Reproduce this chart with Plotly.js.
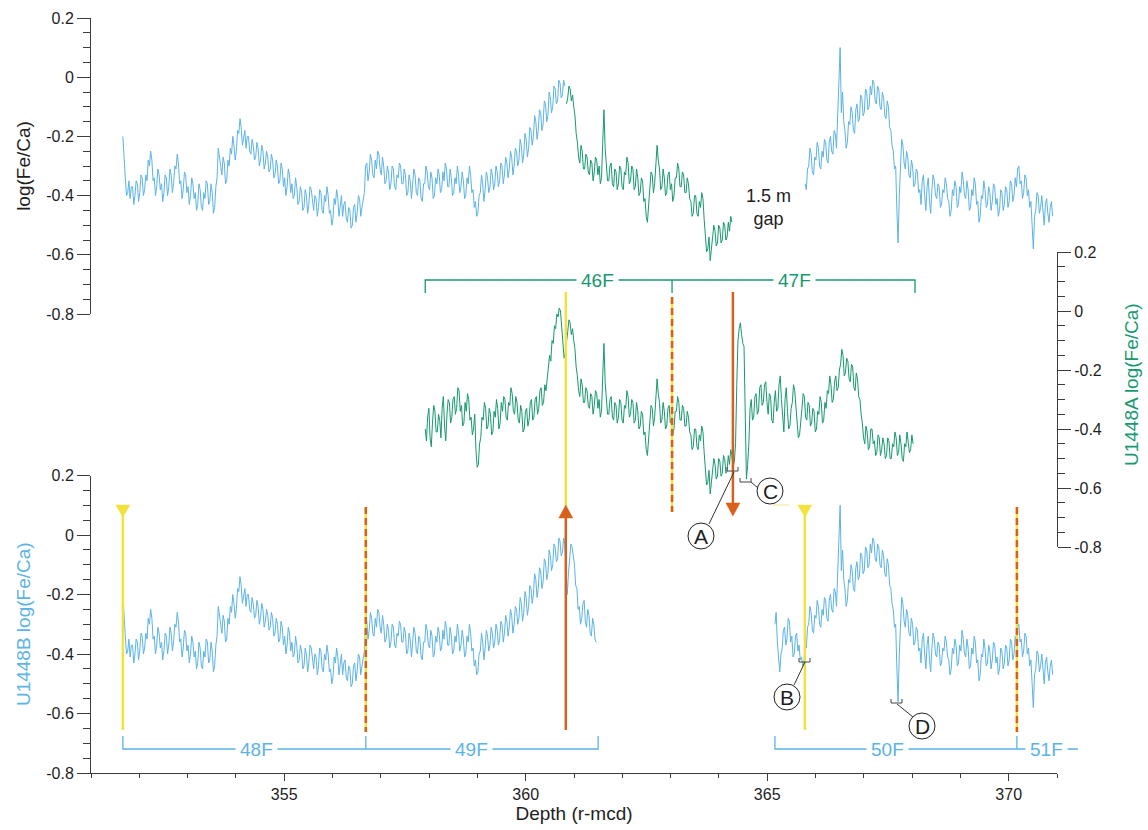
<!DOCTYPE html>
<html><head><meta charset="utf-8">
<script src="https://cdn.plot.ly/plotly-3.0.1.min.js"></script>
<style>html,body{margin:0;padding:0;background:#fff}#chart{width:1148px;height:830px}</style>
</head><body><div id="chart"></div>
<script>
// ---------------- data ----------------
const depthStep = 0.025;
const depthStartB1 = 351.66;   // U1448B, cores 48F-49F
const depthStartB2 = 365.16;   // U1448B, cores 50F-51F
const depthStartA  = 357.92;   // U1448A, cores 46F-47F

const b1Values = [
 -0.20,-0.29,-0.34,-0.40,-0.39,-0.35,-0.41,-0.37,-0.37,-0.43,-0.40,-0.35,-0.36,-0.42,-0.39,-0.33,-0.34,-0.40,-0.38,-0.33,
 -0.35,-0.28,-0.30,-0.25,-0.28,-0.35,-0.34,-0.40,-0.37,-0.31,-0.33,-0.38,-0.36,-0.42,-0.39,-0.33,-0.34,-0.40,-0.37,-0.31,
 -0.33,-0.39,-0.36,-0.30,-0.31,-0.26,-0.29,-0.36,-0.35,-0.41,-0.38,-0.32,-0.33,-0.39,-0.37,-0.43,-0.40,-0.34,-0.36,-0.41,
 -0.39,-0.45,-0.43,-0.36,-0.38,-0.44,-0.45,-0.39,-0.41,-0.35,-0.36,-0.43,-0.42,-0.36,-0.39,-0.46,-0.44,-0.37,-0.34,-0.24,
 -0.27,-0.31,-0.33,-0.27,-0.29,-0.36,-0.35,-0.28,-0.30,-0.24,-0.26,-0.20,-0.23,-0.28,-0.25,-0.18,-0.19,-0.14,-0.17,-0.23,
 -0.21,-0.18,-0.24,-0.20,-0.20,-0.25,-0.26,-0.21,-0.23,-0.28,-0.27,-0.22,-0.24,-0.30,-0.28,-0.23,-0.25,-0.31,-0.29,-0.25,
 -0.27,-0.32,-0.31,-0.26,-0.28,-0.34,-0.33,-0.28,-0.30,-0.36,-0.35,-0.29,-0.31,-0.37,-0.34,-0.40,-0.37,-0.31,-0.33,-0.39,
 -0.36,-0.41,-0.40,-0.34,-0.37,-0.43,-0.42,-0.37,-0.39,-0.45,-0.44,-0.38,-0.40,-0.46,-0.43,-0.37,-0.38,-0.43,-0.45,-0.40,
 -0.41,-0.47,-0.44,-0.38,-0.39,-0.45,-0.46,-0.40,-0.42,-0.37,-0.40,-0.46,-0.45,-0.50,-0.48,-0.41,-0.43,-0.38,-0.41,-0.47,
 -0.44,-0.40,-0.47,-0.43,-0.42,-0.48,-0.49,-0.44,-0.45,-0.51,-0.50,-0.44,-0.43,-0.49,-0.46,-0.40,-0.41,-0.47,-0.44,-0.42,
 -0.39,-0.30,-0.29,-0.35,-0.32,-0.26,-0.28,-0.33,-0.34,-0.28,-0.31,-0.25,-0.26,-0.31,-0.33,-0.27,-0.30,-0.36,-0.35,-0.30,
 -0.32,-0.38,-0.36,-0.30,-0.31,-0.37,-0.38,-0.33,-0.34,-0.29,-0.30,-0.36,-0.36,-0.31,-0.33,-0.40,-0.39,-0.33,-0.35,-0.41,
 -0.37,-0.31,-0.33,-0.39,-0.40,-0.34,-0.35,-0.41,-0.42,-0.36,-0.36,-0.30,-0.32,-0.37,-0.38,-0.32,-0.34,-0.41,-0.40,-0.34,
 -0.36,-0.31,-0.33,-0.39,-0.38,-0.32,-0.35,-0.29,-0.31,-0.37,-0.37,-0.31,-0.34,-0.40,-0.39,-0.34,-0.36,-0.30,-0.33,-0.39,
 -0.37,-0.32,-0.35,-0.41,-0.40,-0.34,-0.36,-0.30,-0.33,-0.39,-0.38,-0.44,-0.42,-0.47,-0.46,-0.40,-0.39,-0.33,-0.36,-0.42,
 -0.38,-0.32,-0.34,-0.39,-0.37,-0.31,-0.33,-0.38,-0.36,-0.30,-0.32,-0.37,-0.35,-0.29,-0.30,-0.36,-0.33,-0.27,-0.29,-0.34,
 -0.31,-0.25,-0.27,-0.33,-0.30,-0.24,-0.25,-0.30,-0.28,-0.21,-0.23,-0.29,-0.26,-0.19,-0.21,-0.27,-0.24,-0.17,-0.18,-0.23,
 -0.20,-0.13,-0.15,-0.21,-0.18,-0.11,-0.12,-0.18,-0.16,-0.08,-0.09,-0.15,-0.13,-0.05,-0.07,-0.12,-0.10,-0.03,-0.04,-0.09,
 -0.08,-0.01,-0.02,-0.07,-0.06,-0.01,-0.03,-0.14,-0.20,-0.13,-0.09,-0.03,-0.04,-0.08,-0.10,-0.17,-0.18,-0.25,-0.24,-0.30,
 -0.28,-0.23,-0.22,-0.29,-0.31,-0.25,-0.27,-0.33,-0.34,-0.28,-0.30,-0.35,-0.36
];
const b2Values = [
 -0.30,-0.26,-0.36,-0.41,-0.46,-0.40,-0.38,-0.32,-0.31,-0.37,-0.35,-0.28,-0.29,-0.36,-0.34,-0.41,-0.40,-0.34,-0.33,-0.39,
 -0.37,-0.42,-0.41,-0.44,-0.43,-0.36,-0.38,-0.31,-0.30,-0.24,-0.26,-0.32,-0.33,-0.27,-0.28,-0.22,-0.24,-0.30,-0.31,-0.25,
 -0.27,-0.21,-0.22,-0.28,-0.29,-0.22,-0.20,-0.25,-0.26,-0.18,-0.19,-0.24,-0.14,-0.02, 0.10,-0.12,-0.05,-0.15,-0.18,-0.24,
 -0.22,-0.15,-0.16,-0.10,-0.12,-0.18,-0.19,-0.11,-0.09,-0.15,-0.14,-0.06,-0.07,-0.13,-0.12,-0.04,-0.05,-0.11,-0.10,-0.03,
 -0.06,-0.01,-0.02,-0.08,-0.09,-0.03,-0.04,-0.10,-0.11,-0.05,-0.07,-0.13,-0.14,-0.08,-0.10,-0.17,-0.18,-0.23,-0.25,-0.31,
 -0.30,-0.45,-0.56,-0.40,-0.28,-0.21,-0.23,-0.29,-0.31,-0.25,-0.27,-0.33,-0.34,-0.28,-0.30,-0.37,-0.36,-0.31,-0.32,-0.39,
 -0.38,-0.43,-0.35,-0.33,-0.40,-0.45,-0.37,-0.34,-0.42,-0.46,-0.38,-0.33,-0.35,-0.40,-0.41,-0.36,-0.37,-0.44,-0.43,-0.38,
 -0.39,-0.34,-0.36,-0.41,-0.42,-0.47,-0.45,-0.38,-0.40,-0.35,-0.37,-0.44,-0.43,-0.37,-0.39,-0.32,-0.35,-0.40,-0.41,-0.35,
 -0.38,-0.45,-0.44,-0.38,-0.40,-0.34,-0.36,-0.43,-0.42,-0.49,-0.47,-0.40,-0.41,-0.35,-0.38,-0.44,-0.43,-0.37,-0.39,-0.45,
 -0.42,-0.36,-0.37,-0.43,-0.41,-0.47,-0.45,-0.38,-0.39,-0.45,-0.43,-0.37,-0.38,-0.44,-0.42,-0.35,-0.36,-0.42,-0.40,-0.34,
 -0.37,-0.31,-0.30,-0.36,-0.35,-0.41,-0.39,-0.33,-0.34,-0.40,-0.38,-0.44,-0.42,-0.51,-0.58,-0.47,-0.45,-0.39,-0.40,-0.46,
 -0.44,-0.40,-0.47,-0.50,-0.43,-0.41,-0.46,-0.49,-0.44,-0.42,-0.47
];
const aValues = [
 -0.40,-0.44,-0.36,-0.33,-0.43,-0.46,-0.38,-0.32,-0.34,-0.41,-0.41,-0.35,-0.37,-0.43,-0.33,-0.29,-0.39,-0.44,-0.35,-0.30,
 -0.31,-0.38,-0.36,-0.30,-0.29,-0.35,-0.33,-0.26,-0.27,-0.34,-0.32,-0.39,-0.38,-0.31,-0.34,-0.28,-0.30,-0.37,-0.36,-0.42,
 -0.40,-0.35,-0.47,-0.53,-0.52,-0.45,-0.43,-0.36,-0.37,-0.31,-0.33,-0.40,-0.39,-0.33,-0.35,-0.42,-0.41,-0.34,-0.36,-0.30,
 -0.33,-0.40,-0.38,-0.31,-0.34,-0.29,-0.30,-0.36,-0.37,-0.31,-0.32,-0.26,-0.28,-0.34,-0.35,-0.29,-0.31,-0.37,-0.38,-0.32,
 -0.34,-0.41,-0.40,-0.34,-0.33,-0.39,-0.37,-0.31,-0.30,-0.37,-0.36,-0.30,-0.29,-0.35,-0.33,-0.27,-0.26,-0.32,-0.31,-0.25,
 -0.27,-0.23,-0.21,-0.15,-0.17,-0.10,-0.11,-0.05,-0.06,-0.01,-0.02, 0.01, 0.00,-0.05,-0.08,-0.16,-0.14,-0.09,-0.07,-0.03,
 -0.04,-0.08,-0.06,-0.10,-0.13,-0.19,-0.22,-0.27,-0.29,-0.23,-0.25,-0.31,-0.31,-0.26,-0.27,-0.32,-0.33,-0.28,-0.29,-0.35,
 -0.32,-0.27,-0.28,-0.33,-0.30,-0.36,-0.34,-0.22,-0.11,-0.24,-0.30,-0.35,-0.35,-0.30,-0.29,-0.36,-0.37,-0.31,-0.32,-0.38,
 -0.36,-0.30,-0.31,-0.37,-0.38,-0.32,-0.33,-0.27,-0.29,-0.36,-0.35,-0.30,-0.31,-0.38,-0.37,-0.31,-0.34,-0.40,-0.39,-0.34,
 -0.35,-0.42,-0.41,-0.47,-0.49,-0.42,-0.38,-0.32,-0.33,-0.39,-0.36,-0.29,-0.23,-0.28,-0.31,-0.38,-0.37,-0.31,-0.34,-0.40,
 -0.39,-0.33,-0.32,-0.38,-0.36,-0.42,-0.40,-0.34,-0.34,-0.29,-0.31,-0.37,-0.37,-0.32,-0.33,-0.39,-0.39,-0.34,-0.36,-0.41,
 -0.42,-0.47,-0.46,-0.40,-0.40,-0.46,-0.47,-0.42,-0.44,-0.39,-0.41,-0.48,-0.53,-0.59,-0.58,-0.54,-0.62,-0.57,-0.55,-0.50,
 -0.52,-0.57,-0.56,-0.50,-0.51,-0.56,-0.55,-0.49,-0.50,-0.55,-0.54,-0.49,-0.52,-0.47,-0.49,-0.53,-0.51,-0.45,-0.25,-0.10,
 -0.06,-0.04,-0.08,-0.11,-0.12,-0.35,-0.57,-0.52,-0.45,-0.33,-0.30,-0.37,-0.36,-0.29,-0.28,-0.35,-0.34,-0.26,-0.25,-0.32,
 -0.31,-0.25,-0.24,-0.31,-0.35,-0.28,-0.29,-0.37,-0.38,-0.31,-0.27,-0.34,-0.33,-0.25,-0.22,-0.30,-0.36,-0.41,-0.30,-0.26,
 -0.34,-0.40,-0.39,-0.33,-0.31,-0.25,-0.27,-0.33,-0.36,-0.43,-0.42,-0.36,-0.33,-0.28,-0.29,-0.36,-0.37,-0.31,-0.32,-0.39,
 -0.38,-0.33,-0.34,-0.41,-0.40,-0.34,-0.35,-0.29,-0.31,-0.38,-0.37,-0.31,-0.33,-0.27,-0.28,-0.22,-0.25,-0.31,-0.30,-0.24,
 -0.22,-0.27,-0.26,-0.20,-0.18,-0.13,-0.15,-0.22,-0.21,-0.16,-0.17,-0.23,-0.24,-0.18,-0.19,-0.26,-0.27,-0.21,-0.23,-0.29,
 -0.30,-0.35,-0.38,-0.43,-0.45,-0.39,-0.41,-0.47,-0.46,-0.40,-0.40,-0.45,-0.44,-0.49,-0.48,-0.42,-0.43,-0.49,-0.47,-0.43,
 -0.45,-0.50,-0.49,-0.43,-0.44,-0.50,-0.50,-0.45,-0.46,-0.41,-0.43,-0.49,-0.48,-0.42,-0.45,-0.50,-0.51,-0.45,-0.46,-0.41,
 -0.44,-0.48,-0.47,-0.42,-0.45
];

// splice tie points (depth, r-mcd): B start, B->A, A end (gap start), B restart
const tiePoints = [351.66, 360.83, 364.29, 365.78];
// core boundaries (dashed lines) and core extents
const coreBreaks  = [356.69, 363.03, 370.17];
const coreEdgesA  = [357.92, 363.03, 368.06];
const coreEdgesB1 = [351.66, 356.69, 361.50];
const coreEdgesB2 = [365.16, 370.17];
const coreLabelsA = ['46F', '47F'];
const coreLabelsB = ['48F', '49F', '50F', '51F'];
const xRange = [351, 371];
const xTickVals = [355, 360, 365, 370];
const yTickVals = [-0.8, -0.6, -0.4, -0.2, 0, 0.2];
const yTickText = ['-0.8', '-0.6', '-0.4', '-0.2', '0', '0.2'];

// ---------------- build ----------------
const depths = (start, n) => Array.from({length: n}, (_, i) => +(start + i * depthStep).toFixed(3));
const dB1 = depths(depthStartB1, b1Values.length);
const dB2 = depths(depthStartB2, b2Values.length);
const dA  = depths(depthStartA,  aValues.length);

function pick(d, v, lo, hi) {
  const x = [], y = [];
  d.forEach((di, i) => { if (di >= lo && di <= hi) { x.push(di); y.push(v[i]); } });
  return {x, y};
}
const topB1 = pick(dB1, b1Values, tiePoints[0], tiePoints[1]);
const topA  = pick(dA,  aValues,  tiePoints[1], tiePoints[2]);
const topB2 = pick(dB2, b2Values, tiePoints[3] - 0.01, 400);

const BLUE = '#5cb3e6', GREEN = '#17996f', YEL = '#f3e23c', ORG = '#d8601d', AX = '#3c3c3c', TXT = '#1e1e1e';
const FONT = 'Liberation Sans, Arial, Helvetica, sans-serif';
const W = 1148, H = 830, ML = 91, MR = 91, MT = 18, MB = 57;
const PW = W - ML - MR, PH = H - MT - MB;
const px = x => (x - ML) / PW;          // paper x from pixel
const py = y => (H - MB - y) / PH;      // paper y from pixel
const dp = d => (d - xRange[0]) / (xRange[1] - xRange[0]); // paper x from depth
const halfW = 7 / PW;                    // half triangle width (paper)

const line = (c, w) => ({color: c, width: w});
const traces = [
  {x: topB1.x, y: topB1.y, yaxis: 'y3', line: line(BLUE, 1)},
  {x: topA.x,  y: topA.y,  yaxis: 'y3', line: line(GREEN, 1)},
  {x: topB2.x, y: topB2.y, yaxis: 'y3', line: line(BLUE, 1)},
  {x: dA,  y: aValues,  yaxis: 'y2', line: line(GREEN, 1)},
  {x: dB1, y: b1Values, yaxis: 'y',  line: line(BLUE, 1)},
  {x: dB2, y: b2Values, yaxis: 'y',  line: line(BLUE, 1)}
].map(t => Object.assign({type: 'scatter', mode: 'lines', xaxis: 'x', hoverinfo: 'skip', showlegend: false}, t));

const yAxisBase = {
  range: [-0.8, 0.2], anchor: 'x', showline: true, linecolor: AX, linewidth: 1,
  ticks: 'outside', ticklen: 13, tickcolor: AX, tickwidth: 1,
  tickmode: 'array', tickvals: yTickVals, ticktext: yTickText,
  tickfont: {size: 16, color: TXT, family: FONT},
  minor: {tickmode: 'linear', tick0: 0, dtick: 0.05, ticklen: 7, tickcolor: AX, ticks: 'outside'},
  showgrid: false, zeroline: false, fixedrange: true
};

const shapes = [];
const S = o => shapes.push(Object.assign({xref: 'paper', yref: 'paper', layer: 'above'}, o));
const vline = (d, y0, y1, c, w, dash) => S({type: 'line', x0: dp(d), x1: dp(d), y0: py(y0), y1: py(y1), line: {color: c, width: w, dash: dash || 'solid'}});
const tri = (d, yBase, yTip, c) => S({type: 'path', path: `M ${dp(d) - halfW},${py(yBase)} L ${dp(d) + halfW},${py(yBase)} L ${dp(d)},${py(yTip)} Z`, fillcolor: c, line: {color: c, width: 0.5}});

// yellow tie at B->A and orange up-arrow
vline(tiePoints[1], 292, 506, YEL, 2.5);
vline(tiePoints[1], 516, 730, ORG, 2.5);
tri(tiePoints[1], 518, 505, ORG);
// dashed core break in A
vline(coreBreaks[1], 297, 512, YEL, 2.5);
vline(coreBreaks[1], 297, 512, ORG, 2.5, '7px,4px');
// orange down arrow at end of A splice section
vline(tiePoints[2], 292, 505, ORG, 2.5);
tri(tiePoints[2], 503, 516, ORG);
// yellow ties in B with down triangles
[tiePoints[0], tiePoints[3]].forEach(d => { vline(d, 515, 730, YEL, 2.5); tri(d, 505, 517, YEL); });
// dashed core breaks in B
[coreBreaks[0], coreBreaks[2]].forEach(d => { vline(d, 507, 732, YEL, 2.5); vline(d, 507, 732, ORG, 2.5, '7px,4px'); });
// faint pale mark
S({type: 'line', x0: px(772), x1: px(789), y0: py(505), y1: py(505), line: {color: '#f6eeb4', width: 1.5}});

// core brackets
const brkG = `M ${dp(coreEdgesA[0])},${py(293)} L ${dp(coreEdgesA[0])},${py(280)} L ${dp(coreEdgesA[2])},${py(280)} L ${dp(coreEdgesA[2])},${py(293)} M ${dp(coreEdgesA[1])},${py(280)} L ${dp(coreEdgesA[1])},${py(293)}`;
S({type: 'path', path: brkG, line: {color: GREEN, width: 1.3}});
const brkB1 = `M ${dp(coreEdgesB1[0])},${py(736)} L ${dp(coreEdgesB1[0])},${py(749)} L ${dp(coreEdgesB1[2])},${py(749)} L ${dp(coreEdgesB1[2])},${py(736)} M ${dp(coreEdgesB1[1])},${py(749)} L ${dp(coreEdgesB1[1])},${py(736)}`;
S({type: 'path', path: brkB1, line: {color: BLUE, width: 1.3}});
const brkB2 = `M ${dp(coreEdgesB2[0])},${py(736)} L ${dp(coreEdgesB2[0])},${py(749)} L ${px(1078)},${py(749)} M ${dp(coreEdgesB2[1])},${py(749)} L ${dp(coreEdgesB2[1])},${py(736)}`;
S({type: 'path', path: brkB2, line: {color: BLUE, width: 1.3}});

// callouts A-D: small brackets, leaders, circles
const callouts = [
  {t: 'A', bx: [727, 738], by: 471, lead: [734, 472, 709, 524], c: [701, 536]},
  {t: 'C', bx: [740, 751], by: 482, lead: [751, 482, 758, 488], c: [770, 491]},
  {t: 'B', bx: [799, 810], by: 662, lead: [805, 662, 794, 685], c: [787, 697]},
  {t: 'D', bx: [891, 902], by: 703, lead: [897, 704, 913, 717], c: [922, 726]}
];
const annotations = [];
const ann = o => annotations.push(Object.assign({xref: 'paper', yref: 'paper', xanchor: 'center', yanchor: 'middle', showarrow: false}, o));
callouts.forEach(k => {
  S({type: 'path', path: `M ${px(k.bx[0])},${py(k.by - 4)} L ${px(k.bx[0])},${py(k.by)} L ${px(k.bx[1])},${py(k.by)} L ${px(k.bx[1])},${py(k.by - 4)}`, line: {color: '#444', width: 1}});
  S({type: 'line', x0: px(k.lead[0]), y0: py(k.lead[1]), x1: px(k.lead[2]), y1: py(k.lead[3]), line: {color: '#333', width: 1}});
  S({type: 'circle', x0: px(k.c[0] - 13), x1: px(k.c[0] + 13), y0: py(k.c[1] + 13), y1: py(k.c[1] - 13), fillcolor: '#fff', line: {color: '#222', width: 1}});
  ann({x: px(k.c[0]), y: py(k.c[1]), text: k.t, font: {size: 21, color: TXT, family: FONT}});
});

// bracket labels
const lab = (t, x, y, c) => ann({x: px(x), y: py(y), text: t, bgcolor: '#fff', borderpad: 4, font: {size: 19, color: c, family: FONT}});
lab(coreLabelsA[0], 597, 280, GREEN);
lab(coreLabelsA[1], 794, 280, GREEN);
lab(coreLabelsB[0], 256, 749, BLUE);
lab(coreLabelsB[1], 471, 749, BLUE);
lab(coreLabelsB[2], 887, 749, BLUE);
lab(coreLabelsB[3], 1046, 749, BLUE);

ann({x: px(768), y: py(207), text: '1.5 m<br>gap', font: {size: 18, color: TXT, family: FONT}});
ann({x: px(1131), y: py(385), text: 'U1448A log(Fe/Ca)', textangle: -90, font: {size: 19, color: GREEN, family: FONT}});

const layout = {
  width: W, height: H, margin: {l: ML, r: MR, t: MT, b: MB},
  paper_bgcolor: '#fff', plot_bgcolor: 'rgba(0,0,0,0)',
  font: {family: FONT, color: TXT},
  showlegend: false,
  xaxis: {
    range: xRange, domain: [0, 1], anchor: 'y', showline: true, linecolor: AX, linewidth: 1,
    ticks: 'outside', ticklen: 7, tickcolor: AX, tickmode: 'array', tickvals: xTickVals, ticktext: xTickVals.map(String),
    tickfont: {size: 16, color: TXT, family: FONT},
    minor: {tickmode: 'linear', tick0: 351, dtick: 1, ticklen: 4, tickcolor: AX, ticks: 'outside'},
    showgrid: false, zeroline: false, fixedrange: true,
    title: {text: 'Depth (r-mcd)', font: {size: 19, color: TXT, family: FONT}, standoff: 4}
  },
  yaxis: Object.assign({}, yAxisBase, {domain: [0, py(475.5)], side: 'left',
    title: {text: 'U1448B log(Fe/Ca)', font: {size: 19, color: BLUE, family: FONT}, standoff: 10}}),
  yaxis2: Object.assign({}, yAxisBase, {domain: [py(547), py(252)], side: 'right'}),
  yaxis3: Object.assign({}, yAxisBase, {domain: [py(314), 1], side: 'left',
    title: {text: 'log(Fe/Ca)', font: {size: 19, color: TXT, family: FONT}, standoff: 10}}),
  shapes: shapes,
  annotations: annotations
};

Plotly.newPlot('chart', traces, layout, {displayModeBar: false, staticPlot: true});
</script>
</body></html>
